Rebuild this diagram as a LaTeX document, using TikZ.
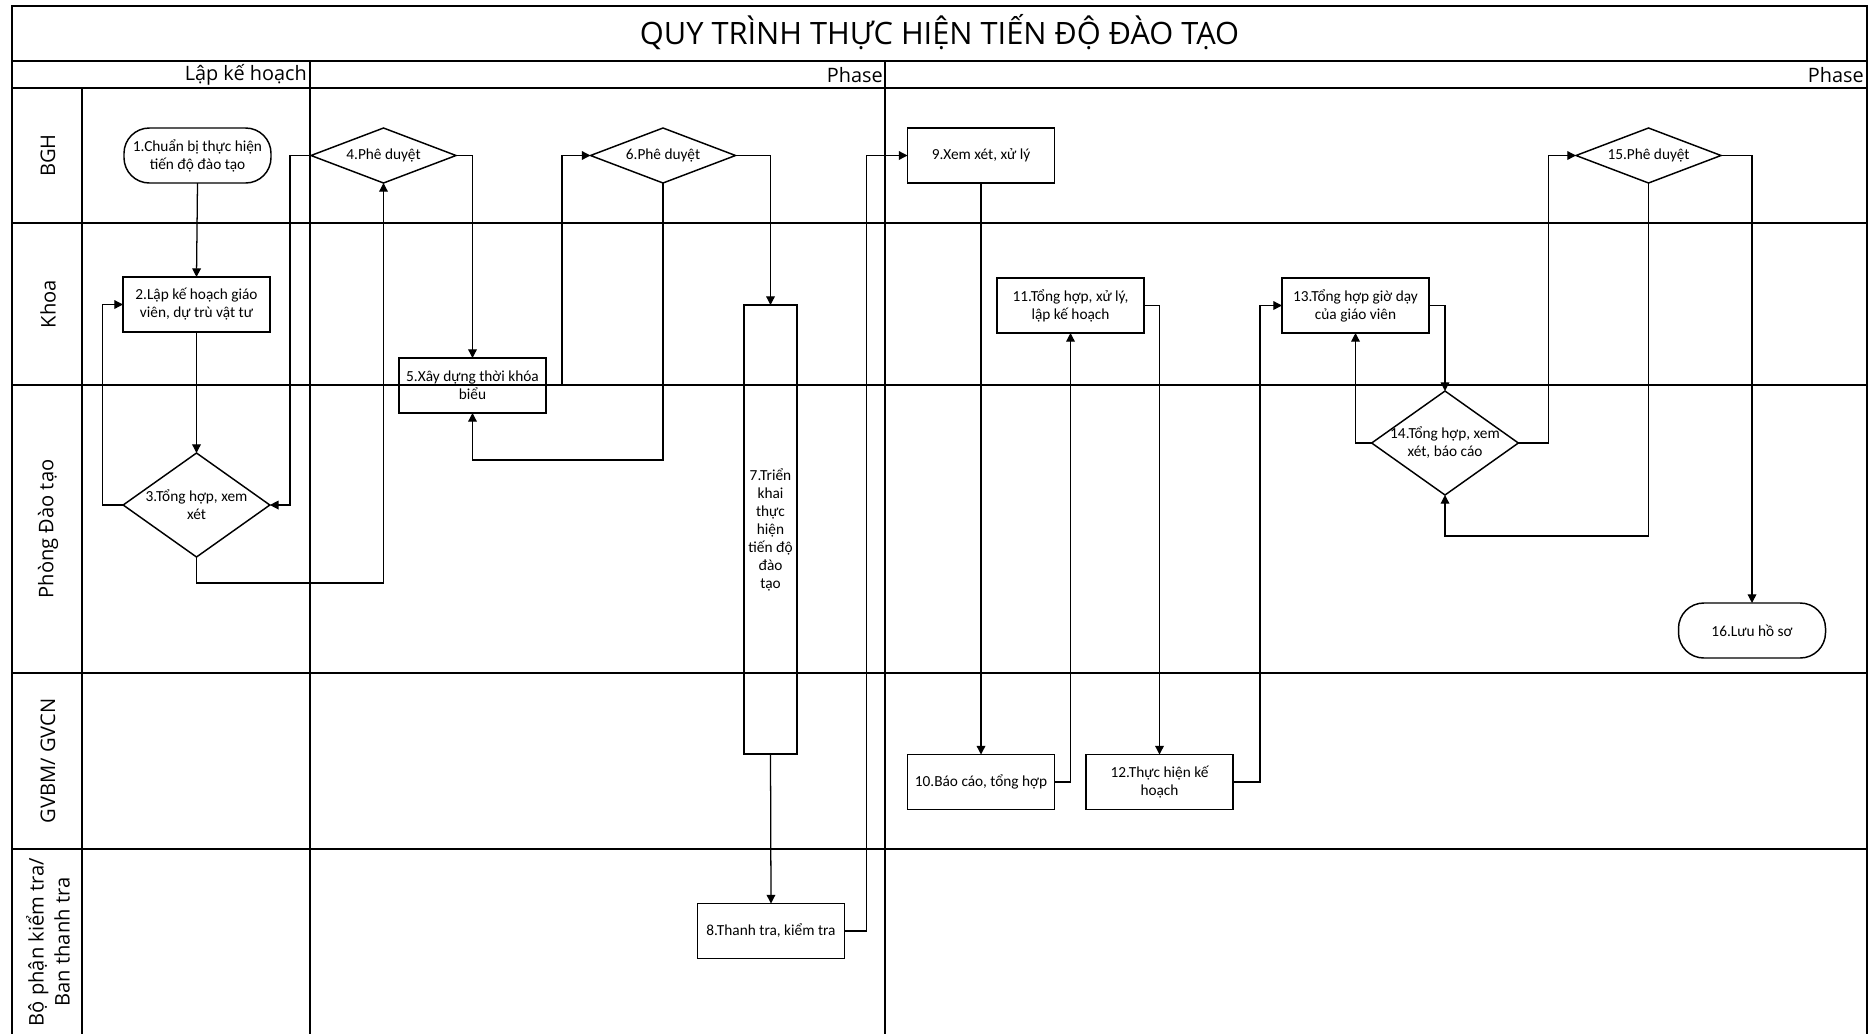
\documentclass[tikz,border=0pt]{standalone}
\usepackage{fontspec}
\setmainfont{Carlito}
\newfontfamily\osans{Open Sans}
\usetikzlibrary{arrows.meta,shapes.geometric}
\newcommand\ndfont{\rmfamily\fontsize{11.5}{13.5}\selectfont}
\newcommand\lnfont{\osans\fontsize{15.1}{19.5}\selectfont}
\newcommand\phfont{\osans\fontsize{14.9}{16}\selectfont}
\newcommand\ttfont{\osans\fontsize{23.1}{26}\selectfont}
\begin{document}
\begin{tikzpicture}[x=0.75pt,y=-0.75pt,
  frame/.style={line width=1.5pt},
  vline/.style={line width=1pt},
  box/.style={draw,line width=1.1pt,minimum width=110.25pt,minimum height=41.25pt,inner sep=0pt,outer sep=0pt,align=center,font=\ndfont},
  term/.style={box,rounded corners=19pt},
  dia/.style={draw,diamond,line width=1.1pt,inner sep=0pt,outer sep=0pt,minimum width=108.75pt,minimum height=41.25pt},
  bigdia/.style={dia,minimum width=110pt,minimum height=78pt},
  txt/.style={align=center,font=\ndfont,inner sep=0pt},
  lane/.style={rotate=90,font=\lnfont,align=center,inner sep=0pt},
  phase/.style={anchor=east,font=\phfont,inner sep=0pt},
  arr/.style={line width=0.95pt,-{Triangle[length=6.5pt,width=6.5pt]}}
]
\useasboundingbox (0,0) rectangle (1870,1033);
\fill[white] (0,0) rectangle (1870,1033);
% frame and grid
\draw[frame] (12,1040) -- (12,6) -- (1867,6) -- (1867,1040);
\draw[frame] (12,61) -- (1867,61);
\draw[frame] (12,88) -- (1867,88);
\foreach \yy in {223,385,673,849} \draw[frame] (12,\yy) -- (1867,\yy);
\draw[vline] (82,88) -- (82,1040);
\draw[vline] (310,61) -- (310,1040);
\draw[vline] (885,61) -- (885,1040);
% title and phases
\node[font=\ttfont,inner sep=0pt] (title) at (939.5,32) {QUY TRÌNH THỰC HIỆN TIẾN ĐỘ ĐÀO TẠO};
\node[phase] (ph1) at (307,75) {Lập kế hoạch};
\node[phase] (ph2) at (883,75) {Phase};
\node[phase] (ph3) at (1864,75) {Phase};
% lane labels
\node[lane] (l1) at (48,155.5) {BGH};
\node[lane] (l2) at (48,304) {Khoa};
\node[lane] (l3) at (48,529) {Phòng Đào tạo};
\node[lane] (l4) at (48,761) {GVBM/ GVCN};
\node[lane] (l5) at (48,942) {Bộ phận kiểm tra/\\Ban thanh tra};
% nodes
\node[term] (n1) at (197.5,155.5) {1.Chuẩn bị thực hiện\\tiến độ đào tạo};
\node[box] (n2) at (196.5,304.5) {2.Lập kế hoạch giáo\\viên, dự trù vật tư};
\node[bigdia] (n3) at (196.5,505) {};
\node[txt] (t3) at (n3) {3.Tổng hợp, xem\\xét};
\node[dia] (n4) at (383.5,155.5) {};
\node[txt] (t4) at (n4) {4.Phê duyệt};
\node[box] (n5) at (472.5,385.5) {5.Xây dựng thời khóa\\biểu};
\node[dia] (n6) at (663,155.5) {};
\node[txt] (t6) at (n6) {6.Phê duyệt};
\node[box,minimum width=39.75pt,minimum height=336.75pt] (n7) at (770.5,529.5) {7.Triển\\khai\\thực\\hiện\\tiến độ\\đào\\tạo};
\node[box] (n8) at (771,931) {8.Thanh tra, kiểm tra};
\node[box] (n9) at (981,155.5) {9.Xem xét, xử lý};
\node[box] (n10) at (981,782) {10.Báo cáo, tổng hợp};
\node[box] (n11) at (1070.5,305.5) {11.Tổng hợp, xử lý,\\lập kế hoạch};
\node[box] (n12) at (1159.5,782) {12.Thực hiện kế\\hoạch};
\node[box] (n13) at (1355.5,305.5) {13.Tổng hợp giờ dạy\\của giáo viên};
\node[bigdia] (n14) at (1445,443) {};
\node[txt] (t14) at (n14) {14.Tổng hợp, xem\\xét, báo cáo};
\node[dia] (n15) at (1648.5,155.5) {};
\node[txt] (t15) at (n15) {15.Phê duyệt};
\node[term] (n16) at (1752,630.5) {16.Lưu hồ sơ};
% connectors
\draw[arr] (n1.south) -- (n2.north);
\draw[arr] (n2.south) -- (n3.north);
\draw[arr] (n3.west) -- ++(-20.5,0) |- (n2.west);
\draw[arr] (n3.south) -- ++(0,26) -| (n4.south);
\draw[arr] (n4.west) -- ++(-21,0) |- (n3.east);
\draw[arr] (n4.east) -| (n5.north);
\draw[arr] (n5.east) -- ++(16,0) |- (n6.west);
\draw[arr] (n6.south) -- ++(0,277) -| (n5.south);
\draw[arr] (n6.east) -| (n7.north);
\draw[arr] (n7.south) -- (n8.north);
\draw[arr] (n8.east) -- ++(22,0) |- (n9.west);
\draw[arr] (n9.south) -- (n10.north);
\draw[arr] (n10.east) -| (n11.south);
\draw[arr] (n11.east) -| (n12.north);
\draw[arr] (n12.east) -- ++(27,0) |- (n13.west);
\draw[arr] (n13.east) -| (n14.north);
\draw[arr] (n14.west) -| (n13.south);
\draw[arr] (n14.east) -- ++(30,0) |- (n15.west);
\draw[arr] (n15.south) -- ++(0,353) -| (n14.south);
\draw[arr] (n15.east) -| (n16.north);
\end{tikzpicture}
\end{document}
